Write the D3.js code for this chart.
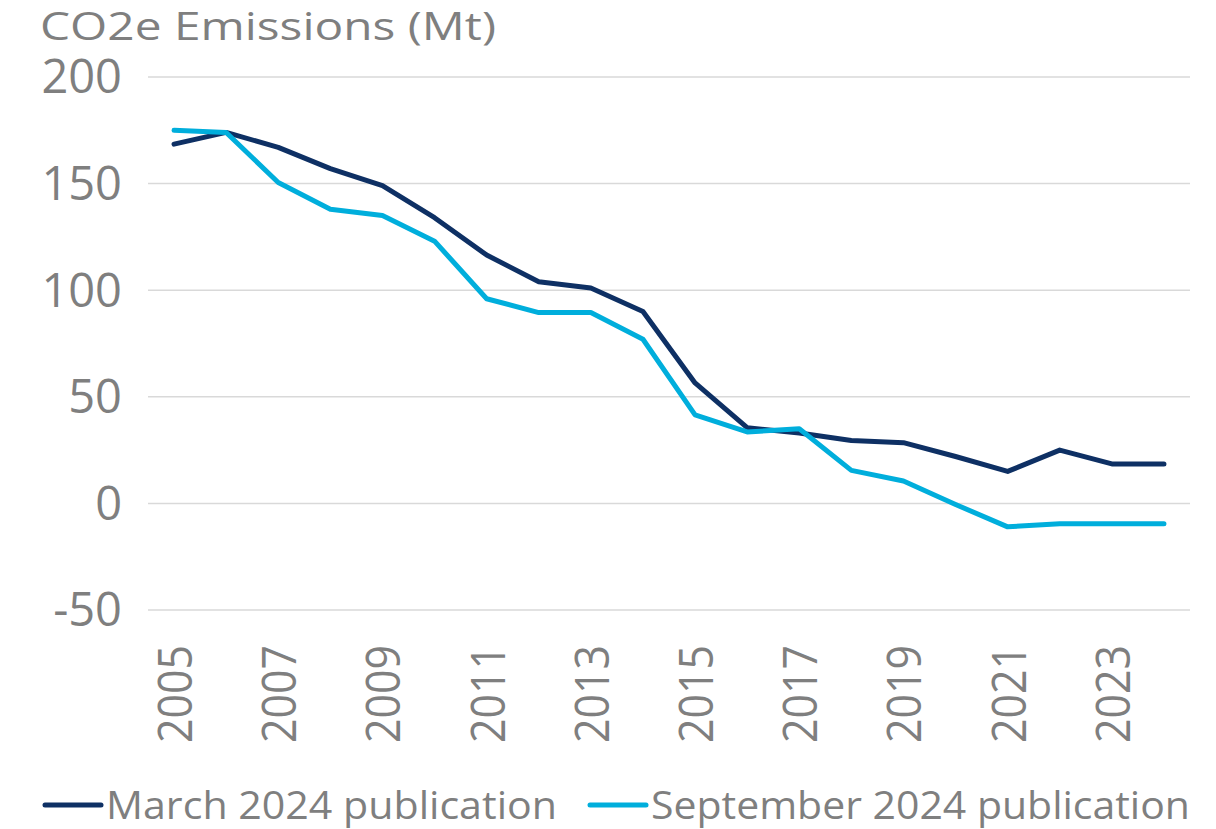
<!DOCTYPE html>
<html>
<head>
<meta charset="utf-8">
<script src="https://cdn.jsdelivr.net/npm/d3@7"></script>
<style>
  body { margin: 0; background: #fff; }
  svg { display: block; font-family: "Open Sans", "Noto Sans", sans-serif; }
</style>
</head>
<body>
<svg id="chart" width="1216" height="829"></svg>
<script>
const years = d3.range(2005, 2025);
const yTicks = [-50, 0, 50, 100, 150, 200];
const xTickYears = [2005, 2007, 2009, 2011, 2013, 2015, 2017, 2019, 2021, 2023];

const march2024 = [168.5, 174, 167, 157, 149, 134, 116.5, 104, 101, 90, 56.5, 35.5, 33, 29.5, 28.5, 22, 15, 25, 18.5, 18.5];
const september2024 = [175, 174, 150.5, 138, 135, 123, 96, 89.5, 89.5, 77, 41.5, 33.5, 35, 15.5, 10.5, -0.5, -11, -9.5, -9.5, -9.5];

const series = [
  { name: "March 2024 publication", values: march2024, color: "#0E3064" },
  { name: "September 2024 publication", values: september2024, color: "#00AEDC" },
];

const textColor = "#7F7F7F";
const marginLeft = 148;
const marginRight = 26;
const plotTop = 77;
const plotBottom = 610;

const svg = d3.select("#chart");
const width = +svg.attr("width");

const x = d3.scaleBand().domain(years).range([marginLeft, width - marginRight]);
const y = d3.scaleLinear().domain([-50, 200]).range([plotBottom, plotTop]);

// gridlines
svg.append("g")
  .selectAll("line")
  .data(yTicks)
  .join("line")
  .attr("x1", marginLeft)
  .attr("x2", width - marginRight)
  .attr("y1", (d) => y(d))
  .attr("y2", (d) => y(d))
  .attr("stroke", "#D9D9D9")
  .attr("stroke-width", 1.5);

// y labels
svg.append("g")
  .selectAll("text")
  .data(yTicks)
  .join("text")
  .attr("x", 122)
  .attr("y", (d) => y(d))
  .attr("dy", "0.35em")
  .attr("text-anchor", "end")
  .attr("fill", textColor)
  .attr("font-size", 47)
  .text((d) => d);

// title
svg.append("text")
  .attr("x", 40)
  .attr("y", 40)
  .attr("fill", textColor)
  .attr("font-size", 38)
  .attr("textLength", 456)
  .attr("lengthAdjust", "spacingAndGlyphs")
  .text("CO2e Emissions (Mt)");

// x labels (rotated)
svg.append("g")
  .selectAll("text")
  .data(xTickYears)
  .join("text")
  .attr("transform", (d) => `translate(${x(d) + x.bandwidth() / 2 + 18},645) rotate(-90)`)
  .attr("text-anchor", "end")
  .attr("fill", textColor)
  .attr("font-size", 48)
  .attr("textLength", 98)
  .attr("lengthAdjust", "spacingAndGlyphs")
  .text((d) => d);

// lines
const line = d3.line()
  .x((d, i) => x(years[i]) + x.bandwidth() / 2)
  .y((d) => y(d));

svg.append("g")
  .selectAll("path")
  .data(series)
  .join("path")
  .attr("d", (d) => line(d.values))
  .attr("fill", "none")
  .attr("stroke", (d) => d.color)
  .attr("stroke-width", 5)
  .attr("stroke-linejoin", "round")
  .attr("stroke-linecap", "round");

// legend
const legendPos = [43, 588];
const legendTextLen = [451, 539];
const legend = svg.append("g")
  .selectAll("g")
  .data(series)
  .join("g")
  .attr("transform", (d, i) => `translate(${legendPos[i]},805)`);

legend.append("line")
  .attr("x1", 2)
  .attr("x2", 58)
  .attr("stroke", (d) => d.color)
  .attr("stroke-width", 5)
  .attr("stroke-linecap", "round");

legend.append("text")
  .attr("x", 63)
  .attr("dy", "0.35em")
  .attr("fill", textColor)
  .attr("font-size", 39)
  .attr("textLength", (d, i) => legendTextLen[i])
  .attr("lengthAdjust", "spacingAndGlyphs")
  .text((d) => d.name);
</script>
</body>
</html>
